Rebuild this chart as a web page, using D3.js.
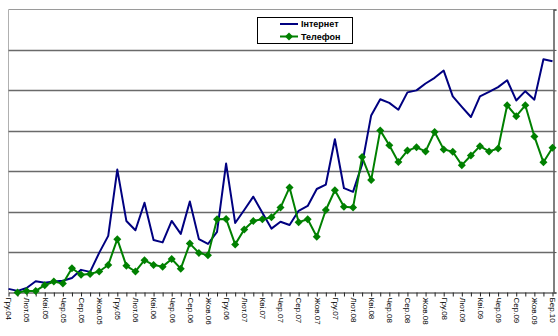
<!DOCTYPE html>
<html><head><meta charset="utf-8">
<script src="https://cdn.jsdelivr.net/npm/d3@7"></script>
<style>html,body{margin:0;padding:0;background:#fff;}svg{display:block;}</style>
</head><body>
<svg id="c" width="558" height="336"></svg>
<script>
// Tick labels (every second category)
const tickLabels = ["Гру.04","Лют.05","Кві.05","Чер.05","Сер.05","Жов.05","Гру.05","Лют.06","Кві.06","Чер.06","Сер.06","Жов.06","Гру.06","Лют.07","Кві.07","Чер.07","Сер.07","Жов.07","Гру.07","Лют.08","Кві.08","Чер.08","Сер.08","Жов.08","Гру.08","Лют.09","Кві.09","Чер.09","Сер.09","Жов.09","Бер.10"];
const seriesNames = ["Інтернет","Телефон"];
const internet = [0.9,0.4,1.1,2.8,2.4,2.7,2.9,3.6,5.6,5.1,9.8,14.0,30.4,17.7,15.4,22.2,13.0,12.4,17.7,14.5,22.5,13.2,12.0,15.0,31.9,17.2,20.4,23.7,19.7,15.8,17.5,16.7,20.2,21.4,25.6,26.7,37.9,25.8,24.9,31.7,43.8,47.8,46.9,45.2,49.5,50.0,51.7,53.1,54.9,48.5,45.9,43.4,48.5,49.6,50.8,52.5,47.5,49.8,47.7,57.7,57.2];
const telefon = [null,0.0,0.4,0.4,1.8,2.7,2.2,6.0,4.4,4.6,5.2,6.8,13.2,6.6,5.2,8.0,6.8,6.4,8.3,5.9,12.1,9.8,9.2,18.1,18.2,11.9,15.6,17.7,18.1,18.6,21.0,26.0,17.4,18.1,13.8,20.4,25.3,21.2,21.0,33.5,27.8,40.1,36.4,32.3,35.1,35.9,34.9,39.7,35.4,34.8,31.5,33.9,36.2,34.9,35.6,46.3,43.6,46.3,38.6,32.2,35.8];
const yTicks = [0,10,20,30,40,50,60,70];

const svg = d3.select("#c");
const L = 8.5, R = 553.5, T = 9.5, B = 292.5;
const idx = d3.range(internet.length);
const x = d3.scalePoint().domain(idx).range([L, R - 1]);
const y = d3.scaleLinear().domain([0, 70]).range([B, T]);

// top border
svg.append("line").attr("x1", L).attr("x2", R).attr("y1", T).attr("y2", T)
  .attr("stroke", "#9a9a9a").attr("stroke-width", 1);
// left border
svg.append("line").attr("x1", L).attr("x2", L).attr("y1", T).attr("y2", B)
  .attr("stroke", "#b0b0b0").attr("stroke-width", 1);

// gridlines
svg.append("g").selectAll("line").data(yTicks.filter(d => d > 0 && d < 70)).join("line")
  .attr("x1", L).attr("x2", R).attr("y1", d => Math.round(y(d)) + 0.5).attr("y2", d => Math.round(y(d)) + 0.5)
  .attr("stroke", "#6a6a6a").attr("stroke-width", 1.4);

// right axis (no labels)
const ra = svg.append("g").attr("transform", `translate(${R},0)`)
  .call(d3.axisRight(y).tickValues(yTicks).tickSize(3).tickFormat(""));
ra.select(".domain").attr("stroke", "#555").attr("stroke-width", 1.5);
ra.selectAll(".tick line").attr("stroke", "#555");

// bottom axis
const labelMap = new Map(tickLabels.map((t, i) => [i * 2, t]));
const xa = svg.append("g").attr("transform", `translate(0,${B})`)
  .call(d3.axisBottom(x).tickSize(4).tickSizeOuter(0).tickFormat(d => labelMap.get(d) || ""));
xa.select(".domain").attr("stroke", "#222").attr("stroke-width", 1.2);
xa.selectAll(".tick line").attr("stroke", "#222");
xa.selectAll(".tick text")
  .attr("font-family", "Liberation Sans, Arial, sans-serif").attr("font-size", 8).attr("fill", "#000")
  .attr("transform", "rotate(90)").attr("text-anchor", "start")
  .attr("x", 5).attr("y", 0).attr("dy", "0.33em");

// lines
const lineGen = d3.line().defined(d => d[1] != null).x(d => x(d[0])).y(d => y(d[1]));
svg.append("path").datum(idx.map(i => [i, internet[i]])).attr("d", lineGen)
  .attr("fill", "none").attr("stroke", "#000080").attr("stroke-width", 2).attr("stroke-linejoin", "round");
svg.append("path").datum(idx.map(i => [i, telefon[i]])).attr("d", lineGen)
  .attr("fill", "none").attr("stroke", "#008000").attr("stroke-width", 2).attr("stroke-linejoin", "round");

const diamond = "M0,-4L4,0L0,4L-4,0Z";
svg.append("g").selectAll("path").data(idx.filter(i => telefon[i] != null)).join("path")
  .attr("d", diamond).attr("transform", i => `translate(${x(i)},${y(telefon[i])})`)
  .attr("fill", "#008000");

// legend
const lg = svg.append("g");
lg.append("rect").attr("x", 257.5).attr("y", 17.5).attr("width", 95).attr("height", 26)
  .attr("fill", "#fff").attr("stroke", "#000").attr("stroke-width", 1);
const colors = ["#000080", "#008000"];
seriesNames.forEach((n, k) => {
  const yy = 24 + k * 12.5;
  lg.append("line").attr("x1", 280).attr("x2", 298).attr("y1", yy).attr("y2", yy)
    .attr("stroke", colors[k]).attr("stroke-width", 2);
  if (k === 1) lg.append("path").attr("d", diamond).attr("transform", `translate(289,${yy})`).attr("fill", colors[k]);
  lg.append("text").attr("x", 301).attr("y", yy).attr("dy", "0.35em")
    .attr("font-family", "Liberation Sans, Arial, sans-serif").attr("font-size", 9).attr("font-weight", "bold")
    .attr("fill", "#000").text(n);
});
</script>
</body></html>
